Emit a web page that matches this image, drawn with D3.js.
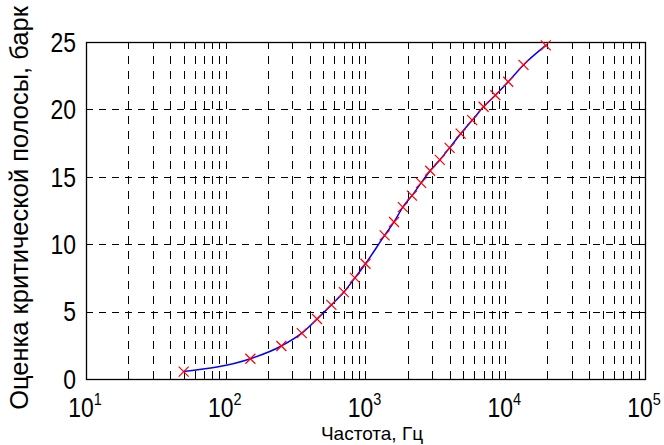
<!DOCTYPE html>
<html lang="ru">
<head>
    <meta charset="UTF-8">
    <title>Критические полосы</title>
    <script src="https://d3js.org/d3.v7.min.js"></script>
    <style>
        body { margin: 0; background: #fff; }
        svg { display: block; font-family: "Liberation Sans", Arial, sans-serif; }
        .grid line { stroke: #000; stroke-width: 1px; shape-rendering: crispEdges; }
        .tick-label { font-size: 27px; fill: #000; }
    </style>
</head>
<body>
    <div id="chart"></div>

    <script>
        // центральные частоты критических полос, Гц
        const freqs = [50, 150, 250, 350, 450, 570, 700, 840, 1000, 1370, 1600, 1850,
                       2150, 2500, 2900, 3400, 4000, 4800, 5800, 7000, 8500, 10500, 13500, 19500];
        // оценка критической полосы, барк
        const barks = [0.55, 1.5, 2.45, 3.4, 4.45, 5.5, 6.45, 7.5, 8.55, 10.65, 11.65, 12.75,
                       13.6, 14.55, 15.45, 16.25, 17.15, 18.2, 19.2, 20.2, 21.05, 22.05, 23.3, 24.75];
        const xTicks = [10, 100, 1000, 10000, 100000];
        const xTickExp = ["1", "2", "3", "4", "5"];
        const yTicks = [0, 5, 10, 15, 20, 25];

        const width = 664, height = 445;
        const mLeft = 86, mRight = 645, mTop = 42, mBottom = 379;
        const squeeze = 0.85; // tick labels are narrow in the original

        const svg = d3.select("#chart").append("svg")
            .attr("width", width)
            .attr("height", height);

        svg.append("rect").attr("width", width).attr("height", height).attr("fill", "#fff");

        const x = d3.scaleLog().domain([10, 100000]).range([mLeft, mRight]);
        const y = d3.scaleLinear().domain([0, 25]).range([mBottom, mTop]);

        // minor positions 2..9 x 10^k
        const minor = [];
        for (let k = 1; k < 5; k++) {
            for (let m = 2; m <= 9; m++) minor.push(m * Math.pow(10, k));
        }

        // grid
        const grid = svg.append("g").attr("class", "grid");
        grid.selectAll("line.v")
            .data(minor.concat([100, 1000, 10000]))
            .join("line")
            .attr("class", "v")
            .attr("x1", d => Math.round(x(d)) + 0.5)
            .attr("x2", d => Math.round(x(d)) + 0.5)
            .attr("y1", mBottom)
            .attr("y2", mTop)
            .attr("stroke-dasharray", "8,7");
        grid.selectAll("line.h")
            .data([5, 10, 15, 20])
            .join("line")
            .attr("class", "h")
            .attr("x1", mLeft)
            .attr("x2", mRight)
            .attr("y1", d => Math.round(y(d)) + 0.5)
            .attr("y2", d => Math.round(y(d)) + 0.5)
            .attr("stroke-dasharray", "7,6");

        // ticks inside the box
        const ticks = svg.append("g").attr("stroke", "#000").attr("stroke-width", 1)
            .attr("shape-rendering", "crispEdges");
        xTicks.forEach(t => {
            const px = Math.round(x(t)) + 0.5;
            ticks.append("line").attr("x1", px).attr("x2", px).attr("y1", mBottom).attr("y2", mBottom - 6);
            ticks.append("line").attr("x1", px).attr("x2", px).attr("y1", mTop).attr("y2", mTop + 6);
        });
        minor.forEach(t => {
            const px = Math.round(x(t)) + 0.5;
            ticks.append("line").attr("x1", px).attr("x2", px).attr("y1", mBottom).attr("y2", mBottom - 3);
            ticks.append("line").attr("x1", px).attr("x2", px).attr("y1", mTop).attr("y2", mTop + 3);
        });
        yTicks.forEach(t => {
            const py = Math.round(y(t)) + 0.5;
            ticks.append("line").attr("x1", mLeft).attr("x2", mLeft + 6).attr("y1", py).attr("y2", py);
            ticks.append("line").attr("x1", mRight).attr("x2", mRight - 6).attr("y1", py).attr("y2", py);
        });

        // box
        svg.append("rect")
            .attr("x", mLeft + 0.5).attr("y", mTop + 0.5)
            .attr("width", mRight - mLeft).attr("height", mBottom - mTop)
            .attr("fill", "none").attr("stroke", "#000").attr("stroke-width", 1.3);

        // y tick labels
        svg.append("g").selectAll("text")
            .data(yTicks)
            .join("text")
            .attr("class", "tick-label")
            .attr("transform", d => `translate(${mLeft - 10},${y(d)}) scale(${squeeze},1)`)
            .attr("dy", "0.36em")
            .attr("text-anchor", "end")
            .text(d => d);

        // x tick labels 10^k
        const xl = svg.append("g").selectAll("text")
            .data(xTicks)
            .join("text")
            .attr("class", "tick-label")
            .attr("transform", d => `translate(${x(d) - 1},417) scale(${squeeze},1)`)
            .attr("text-anchor", "middle");
        xl.append("tspan").text("10");
        xl.append("tspan")
            .attr("dy", -12)
            .attr("font-size", 17)
            .text((d, i) => xTickExp[i]);

        // axis labels
        svg.append("text")
            .attr("x", 372)
            .attr("y", 440)
            .attr("text-anchor", "middle")
            .attr("font-size", 19)
            .text("Частота, Гц");

        svg.append("text")
            .attr("transform", "translate(28,208) rotate(-90)")
            .attr("text-anchor", "middle")
            .attr("font-size", 25.5)
            .text("Оценка критической полосы, барк");

        // curve
        const pts = freqs.map((f, i) => [f, barks[i]]);
        const line = d3.line()
            .x(d => x(d[0]))
            .y(d => y(d[1]))
            .curve(d3.curveMonotoneX);

        svg.append("path")
            .datum(pts)
            .attr("d", line)
            .attr("fill", "none")
            .attr("stroke", "#0000ff")
            .attr("stroke-width", 1.5);

        // markers 'x'
        const s = 5;
        const mk = svg.append("g").attr("stroke", "#ff0000").attr("stroke-width", 1.2);
        mk.selectAll("path")
            .data(pts)
            .join("path")
            .attr("transform", d => `translate(${x(d[0])},${y(d[1])})`)
            .attr("d", `M${-s},${-s}L${s},${s}M${-s},${s}L${s},${-s}`);
    </script>
</body>
</html>
